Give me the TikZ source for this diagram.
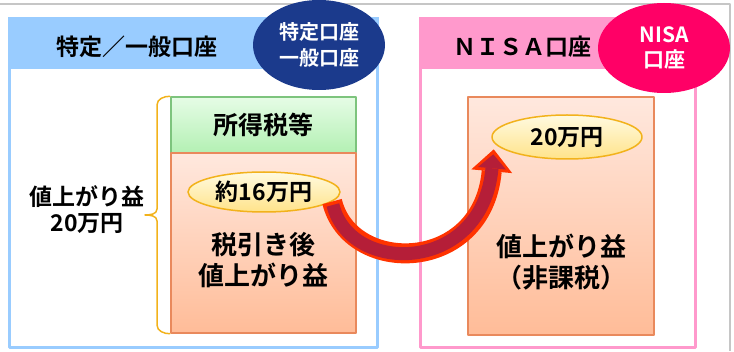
\documentclass[tikz,border=0pt]{standalone}
\usepackage{fontspec}
\setmainfont{Noto Sans CJK JP Bold}
\usetikzlibrary{shapes.geometric,arrows.meta}
\definecolor{kozablue}{HTML}{99CCFF}
\definecolor{nisapink}{HTML}{FF99CC}
\definecolor{navyoval}{HTML}{1B3A8C}
\definecolor{nisaoval}{HTML}{FF0066}
\definecolor{boxline}{HTML}{E9895C}
\definecolor{boxtop}{HTML}{FFE8DE}
\definecolor{boxbot}{HTML}{FFBC98}
\definecolor{taxtop}{HTML}{E6FCE6}
\definecolor{taxbot}{HTML}{B3F0B3}
\definecolor{taxline}{HTML}{7DC47D}
\definecolor{ovaltop}{HTML}{FFFAE0}
\definecolor{ovalbot}{HTML}{FFE38A}
\definecolor{gold}{HTML}{F2B21B}
\definecolor{arrowline}{HTML}{FF3300}
\definecolor{arrowfill}{HTML}{B51E38}

\begin{document}
\begin{tikzpicture}[x=1pt, y=1pt, line join=round,
	head/.style={font=\fontsize{23}{26}\selectfont},
	badge/.style={ellipse, minimum width=132pt, minimum height=90pt, inner sep=0pt, text=white, align=center},
	gainbox/.style={draw=boxline, line width=1.5pt, top color=boxtop, bottom color=boxbot, inner sep=0pt},
	goldoval/.style={ellipse, draw=gold, line width=1.5pt, top color=ovaltop, bottom color=ovalbot, inner sep=0pt, font=\fontsize{23}{26}\selectfont},
	boxtext/.style={align=center, font=\fontsize{26}{31}\selectfont}]
	\useasboundingbox (0,0) rectangle (734,351);
	\draw[gray!45, line width=2pt] (0,347) -- (730,347) -- (730,0);
	% 特定／一般口座
	\draw[kozablue, line width=3pt] (9.5,3.5) rectangle (377.5,332.5);
	\fill[kozablue] (8,282) rectangle (379,334);
	\node[head] (kozahead) at (137,304) {特定／一般口座};
	\node[badge, fill=navyoval, font=\fontsize{20}{26}\selectfont] (kozabadge) at (319,306) {特定口座\\一般口座};
	\node[draw=taxline, line width=1.5pt, top color=taxtop, bottom color=taxbot, minimum width=185pt, minimum height=56pt, font=\fontsize{25}{28}\selectfont] (tax) at (263.5,226) {所得税等};
	\node[gainbox, minimum width=185pt, minimum height=180pt] (gainL) at (263.5,108) {};
	\node[goldoval, minimum width=152pt, minimum height=40pt] (after) at (264,159) {約16万円};
	\node[boxtext] (netgain) at (263.5,91) {税引き後\\値上がり益};
	\node[align=center, font=\fontsize{23}{26}\selectfont] (gain) at (87,141) {値上がり益\\20万円};
	\draw[gold, line width=1.5pt] (tax.north west) to[out=180,in=90] (157,246) -- (157,142)
		to[out=-90,in=0] (145,136) to[out=0,in=90] (157,130) -- (157,26) to[out=-90,in=180] (gainL.south west);
	% ＮＩＳＡ口座
	\draw[nisapink, line width=3pt] (420.5,3.5) rectangle (695,332.5);
	\fill[nisapink] (419,282) rectangle (696.5,334);
	\node[head] (nisahead) at (522,304) {ＮＩＳＡ口座};
	\node[badge, fill=nisaoval, font=\fontsize{21}{25}\selectfont] (nisabadge) at (664,303) {NISA\\口座};
	\node[gainbox, minimum width=186pt, minimum height=238pt] (gainR) at (561,135) {};
	\node[goldoval, minimum width=150pt, minimum height=44pt] (full) at (567,214) {20万円};
	\node[boxtext] (taxfree) at (561.5,89) {値上がり益\\（非課税）};
	% 移す矢印
	\draw[arrowline, line width=20pt, -{Triangle[width=41pt,length=22pt,line width=0pt]}, shorten >=6pt]
		(after.-8) .. controls +(18,-74) and +(-12,-131) .. (full.185);
	\draw[arrowfill, line width=13pt, -{Triangle[width=28pt,length=14pt,line width=0pt]}, shorten >=11pt, shorten <=3.5pt]
		(after.-8) .. controls +(18,-74) and +(-12,-131) .. (full.185);
\end{tikzpicture}
\end{document}
